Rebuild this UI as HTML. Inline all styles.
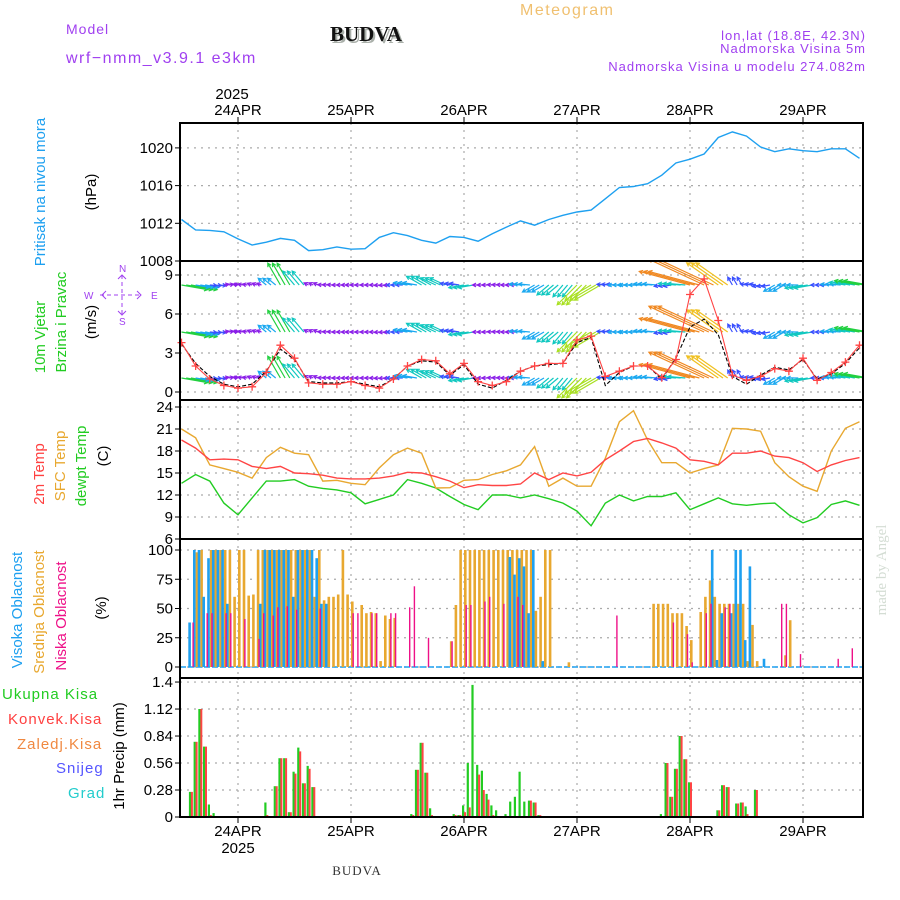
<!DOCTYPE html>
<html><head><meta charset="utf-8"><title>Meteogram BUDVA</title>
<style>
html,body{margin:0;padding:0;background:#fff;}
svg{display:block;font-family:"Liberation Sans","DejaVu Sans",sans-serif;}
</style></head>
<body>
<svg id="chart" width="900" height="900" viewBox="0 0 900 900" xmlns="http://www.w3.org/2000/svg">
<rect x="0" y="0" width="900" height="900" fill="#fff"/>
<g id="header">
<text x="66" y="34" font-size="14" fill="#a040f0" letter-spacing="1">Model</text>
<text x="66" y="63" font-size="16" fill="#a040f0" letter-spacing="1.5">wrf−nmm_v3.9.1 e3km</text>
<text x="332" y="43" font-size="21" font-weight="bold" fill="#aab0aa" font-family="Liberation Serif, serif">BUDVA</text>
<text x="330" y="41" font-size="21" font-weight="bold" fill="#111" font-family="Liberation Serif, serif">BUDVA</text>
<text x="520" y="15" font-size="16" fill="#f0c070" letter-spacing="1.5">Meteogram</text>
<text x="866" y="40" font-size="13" fill="#a040f0" text-anchor="end" letter-spacing="1">lon,lat (18.8E, 42.3N)</text>
<text x="866" y="53" font-size="13" fill="#a040f0" text-anchor="end" letter-spacing="1">Nadmorska Visina 5m</text>
<text x="866" y="71" font-size="13" fill="#a040f0" text-anchor="end" letter-spacing="1">Nadmorska Visina u modelu 274.082m</text>
</g>
<g id="grid"></g>
<g id="marks"></g>
<g id="frames"></g>
<g id="labels">
<text transform="translate(45,192) rotate(-90)" font-size="15" fill="#1ea0f0" text-anchor="middle">Pritisak na nivou mora</text>
<text transform="translate(96,192) rotate(-90)" font-size="15" fill="#000" text-anchor="middle">(hPa)</text>
<text transform="translate(45,337) rotate(-90)" font-size="15" fill="#22cc22" text-anchor="middle">10m Vjetar</text>
<text transform="translate(66,322) rotate(-90)" font-size="15" fill="#22cc22" text-anchor="middle">Brzina i Pravac</text>
<text transform="translate(96,322) rotate(-90)" font-size="15" fill="#000" text-anchor="middle">(m/s)</text>
<g fill="#a040f0" stroke="#a040f0" font-size="10">
<text x="119" y="272" stroke="none">N</text>
<text x="84" y="299" stroke="none">W</text>
<text x="151" y="299" stroke="none">E</text>
<text x="119" y="325" stroke="none">S</text>
<line x1="100" y1="295" x2="142" y2="295" stroke-dasharray="4,3" stroke-width="1"/>
<line x1="122" y1="275" x2="122" y2="315" stroke-dasharray="4,3" stroke-width="1"/>
<polyline points="106,291 102,295 106,299" fill="none" stroke-width="1"/>
<polyline points="137,291 141,295 137,299" fill="none" stroke-width="1"/>
<polyline points="118,279 122,275 126,279" fill="none" stroke-width="1"/>
<polyline points="118,311 122,315 126,311" fill="none" stroke-width="1"/>
</g>
<text transform="translate(44,474) rotate(-90)" font-size="15" fill="#ff4040" text-anchor="middle">2m Temp</text>
<text transform="translate(65,466) rotate(-90)" font-size="15" fill="#e8a830" text-anchor="middle">SFC Temp</text>
<text transform="translate(86,466) rotate(-90)" font-size="15" fill="#22cc22" text-anchor="middle">dewpt Temp</text>
<text transform="translate(108,456) rotate(-90)" font-size="15" fill="#000" text-anchor="middle">(C)</text>
<text transform="translate(22,610) rotate(-90)" font-size="15" fill="#1ea0f0" text-anchor="middle">Visoka Oblacnost</text>
<text transform="translate(44,612) rotate(-90)" font-size="15" fill="#e8a830" text-anchor="middle">Srednja Oblacnost</text>
<text transform="translate(66,616) rotate(-90)" font-size="15" fill="#ee1188" text-anchor="middle">Niska Oblacnost</text>
<text transform="translate(106,608) rotate(-90)" font-size="15" fill="#000" text-anchor="middle">(%)</text>
<text x="2" y="699" font-size="15" fill="#22cc22" letter-spacing="1">Ukupna Kisa</text>
<text x="8" y="724" font-size="15" fill="#ff4040" letter-spacing="1">Konvek.Kisa</text>
<text x="17" y="749" font-size="15" fill="#f08840" letter-spacing="1">Zaledj.Kisa</text>
<text x="56" y="773" font-size="15" fill="#5555ff" letter-spacing="1">Snijeg</text>
<text x="68" y="798" font-size="15" fill="#22cccc" letter-spacing="1">Grad</text>
<text transform="translate(124,756) rotate(-90)" font-size="15" fill="#000" text-anchor="middle">1hr Precip (mm)</text>
<text transform="translate(886,570) rotate(-90)" font-size="15" fill="#d4ddd4" text-anchor="middle" font-family="Liberation Serif, serif">made by Angel</text>
<text x="232" y="99" font-size="15" fill="#000" text-anchor="middle">2025</text>
<text x="238" y="853" font-size="15" fill="#000" text-anchor="middle">2025</text>
<text x="357" y="875" font-size="13" fill="#333" text-anchor="middle" font-family="Liberation Serif, serif" letter-spacing="1">BUDVA</text>
</g>
</svg>
<script>
// ---- data (3-hourly series, index i => hour 3*i from start 23APR ~12Z) ----
const dayLabels = ["24APR","25APR","26APR","27APR","28APR","29APR"];
const pressure = [1012.4,1011.3,1011.25,1011.1,1010.35,1009.7,1010,1010.4,1010.2,1009.1,1009.2,1009.5,1009.25,1009.3,1010.5,1011,1010.7,1010.2,1009.9,1010.6,1010.5,1010.1,1010.9,1011.6,1012.25,1011.8,1012.4,1012.85,1013.2,1013.4,1014.6,1015.8,1015.9,1016.2,1017.1,1018.4,1018.8,1019.35,1021.1,1021.7,1021.25,1020.1,1019.6,1019.9,1019.7,1019.6,1019.9,1019.9,1018.9];
const pressureTicks = [1008,1012,1016,1020];
const windSpeed = [3.8,2.0,1.0,0.5,0.3,0.4,1.5,3.6,2.6,0.7,0.6,0.6,0.8,0.5,0.3,1.0,2.0,2.5,2.4,1.4,2.2,0.8,0.5,0.8,1.6,2.0,2.2,2.2,4.0,4.3,1.2,1.6,2.0,2.0,1.1,2.5,7.5,8.7,5.5,1.3,0.9,1.2,1.8,1.6,2.6,0.9,1.5,2.3,3.6];
const windGust = [3.7,2.2,1.2,0.6,0.4,0.6,1.6,3.3,2.5,0.8,0.7,0.7,0.8,0.6,0.4,1.0,2.0,2.4,2.3,1.3,2.1,0.6,0.3,0.9,1.6,2.0,2.1,2.2,3.8,4.2,0.5,1.5,2.0,2.0,1.0,2.6,5.0,5.6,4.4,1.2,0.6,1.3,1.9,1.7,2.5,1.0,1.4,2.2,3.4];
const windDir = [280,280,275,260,100,110,130,150,140,115,95,90,90,90,85,90,100,120,115,100,80,90,95,90,95,60,50,40,45,60,95,90,90,95,80,95,105,115,125,150,100,80,60,90,80,90,95,100,100];
const windTicks = [0,3,6,9];
const temp2m = [19.5,18.4,16.8,16.9,16.8,15.9,15.6,15.9,15,14.9,14.7,14.3,14.2,14.2,14.3,14.6,15.1,15,14.5,13.9,13,13.4,13.3,13.3,13.5,15,14.1,15,14.6,15.1,16.8,18,19.3,19.7,19.1,18.4,16.8,16.6,16.1,17.7,17.7,18,17.3,17.1,16.4,15.2,16.1,16.7,17.1];
const tempSfc = [21,19.8,16.1,15.6,15.1,14.3,17.1,18.5,17.7,17.5,13.9,14,13.6,13.4,15.7,17.5,18.4,17.7,12.95,13,14,14.1,14.8,15.3,16.1,18.6,13.2,14.3,13.2,13.2,17,22,23.5,19.5,16.4,16.4,15,15.6,16.1,21.1,21,20.7,16.4,14.5,13.2,12.5,18,21.1,22];
const tempDew = [13.6,14.8,13.9,10.9,9.3,11.6,13.9,13.9,14.1,13.2,12.9,12.7,12.3,10.8,11.4,12,14.1,13.6,12.95,11.8,10.7,10,12,12,11.6,12,11.5,10.9,9.8,7.8,10.9,12,11.2,11.8,11.8,12.3,10,10.8,11.6,10.8,10.6,10.8,10.9,9.3,8.2,8.9,10.7,11.2,10.6];
const tempTicks = [6,9,12,15,18,21,24];
// ---- hourly cloud data (hour index, percent) ----
const midHours = [3,4,6,7,8,9,10,11,12,13,14,15,16,17,18,19,20,21,22,23,24,25,26,27,28,29,30,31,32,33,34,35,36,38,39,40,41,42,43,44,45,57,58,59,60,61,62,63,64,65,66,67,68,69,70,71,72,73,74,75,76,77,78,82,100,101,102,103,104,105,106,107,108,110,111,112,113,114,115,116,117,118,119,120,121,122,128,129];
const midVals = [98,100,100,100,100,100,100,60,100,100,61,62,100,100,100,100,100,100,100,100,100,100,100,100,60,100,57,60,60,62,100,62,56,53,46,47,46,5,44,41,42,22,53,100,100,100,100,100,100,100,100,100,100,100,100,100,100,100,100,48,60,100,100,4,54,54,54,54,46,46,46,35,23,47,60,74,60,54,54,54,54,54,54,5,36,5,10,40];
const highHours = [2,3,4,5,6,7,8,9,10,17,18,19,20,21,22,23,24,25,26,27,28,29,30,31,70,71,72,73,74,75,77,113,114,115,117,118,119,120,121,124];
const highVals = [38,100,100,60,93,100,100,100,54,54,100,100,100,100,100,100,60,100,100,100,100,93,54,54,94,79,93,86,46,100,5,100,6,46,46,100,100,23,86,7];
const lowHours = [2,5,6,9,10,13,16,17,19,20,22,24,29,36,37,40,41,44,45,48,49,52,57,60,61,64,65,68,71,72,92,104,107,108,111,112,115,116,127,128,131,139,142];
const lowVals = [38,46,46,46,46,41,24,46,44,51,52,49,50,46,46,46,46,46,46,51,69,25,22,53,53,56,60,54,60,53,44,38,28,4,46,54,51,54,54,54,11,7,16];
const cloudTicks = [0,25,50,75,100];
// ---- hourly precipitation (hour index, mm) ----
const precipHours = [2,3,4,5,6,7,18,20,21,22,23,24,25,26,27,28,48,49,50,51,52,53,58,59,60,61,62,63,64,65,66,67,69,70,71,72,73,74,75,76,102,103,104,105,106,107,108,114,115,116,118,119,120,122];
const precipTotal = [0.26,0.78,1.12,0.73,0.13,0.04,0.15,0.32,0.61,0.61,0.05,0.47,0.72,0.35,0.53,0.31,0.01,0.03,0.49,0.77,0.46,0.09,0.03,0.02,0.12,0.56,1.37,0.54,0.48,0.24,0.12,0.07,0.03,0.16,0.21,0.47,0.16,0.17,0.15,0.02,0.03,0.56,0.21,0.50,0.84,0.60,0.36,0.07,0.33,0.31,0.14,0.15,0.11,0.28];
const precipConv = [0.26,0.78,1.12,0.73,0.02,0,0.02,0.32,0.61,0.61,0.05,0.45,0.68,0.35,0.5,0.31,0.01,0.02,0.49,0.77,0.46,0.02,0.02,0.02,0.05,0.1,0,0.44,0.28,0.18,0.02,0,0,0,0,0,0,0.17,0.15,0.02,0.01,0.56,0.21,0.5,0.84,0.6,0.36,0.07,0.33,0.31,0.14,0.15,0.03,0.28];
const precipTicks = [0,0.28,0.56,0.84,1.12,1.4];

// ---- layout ----
const NS = "http://www.w3.org/2000/svg";
const PL = 180, PR = 863;
const xH = h => 238 + (h - 12) * 113 / 24;     // hour -> px
const dayX = k => 238 + k * 113;
const panels = {
  p: {top:123, bot:261, y: v => 261 - (v - 1008) * 9.425},
  w: {top:261, bot:400, y: v => 392 - v * 13},
  t: {top:400, bot:539, y: v => 539 - (v - 6) * 7.333},
  c: {top:539, bot:678, y: v => 667 - v * 1.17},
  r: {top:678, bot:817, y: v => 817 - v * 96.4}
};
const grid = document.getElementById('grid');
const marks = document.getElementById('marks');
const frames = document.getElementById('frames');
function mk(tag, attrs, parent){
  const e = document.createElementNS(NS, tag);
  for (const k in attrs) e.setAttribute(k, attrs[k]);
  parent.appendChild(e);
  return e;
}
function fmt(v){ return (Math.round(v*100)/100).toString(); }

function axisPanel(key, ticks, name){
  const P = panels[key];
  for (let k = 0; k < dayLabels.length; k++){
    const g = mk('line', {x1:dayX(k), x2:dayX(k), y1:P.top, y2:P.bot, stroke:'#aaa', 'stroke-width':1.2, 'stroke-dasharray':'2,5'}, grid);
    
    
  }
  ticks.forEach(t => {
    const y = P.y(t);
    if (y > P.top + 1 && y < P.bot - 1){
      const g = mk('line', {x1:PL, x2:PR, y1:y, y2:y, stroke:'#aaa', 'stroke-width':1.2, 'stroke-dasharray':'2,5'}, grid);
      
      
    }
    const tk = mk('line', {x1:PL-5, x2:PL, y1:y, y2:y, stroke:'#000', 'stroke-width':1}, frames);
    
    
    const tl = mk('text', {x:PL-7, y:y+5, 'font-size':15, 'text-anchor':'end', fill:'#000'}, frames);
    tl.textContent = fmt(t);
    
    
  });
  const fr = mk('rect', {x:PL, y:P.top, width:PR-PL, height:P.bot-P.top, fill:'none', stroke:'#000', 'stroke-width':2}, frames);
  
  
}
axisPanel('p', pressureTicks, 'pressure');
axisPanel('w', windTicks, 'wind');
axisPanel('t', tempTicks, 'temp');
axisPanel('c', cloudTicks, 'cloud');
axisPanel('r', precipTicks, 'precip');

dayLabels.forEach((d, k) => {
  const x = dayX(k);
  const t1 = mk('line', {x1:x, x2:x, y1:117, y2:123, stroke:'#000'}, frames);
  
  
  const l1 = mk('text', {x:x, y:115, 'font-size':15, 'text-anchor':'middle', fill:'#000'}, frames);
  l1.textContent = d;
  
  
  const t2 = mk('line', {x1:x, x2:x, y1:817, y2:823, stroke:'#000'}, frames);
  
  
  const l2 = mk('text', {x:x, y:836, 'font-size':15, 'text-anchor':'middle', fill:'#000'}, frames);
  l2.textContent = d;
  
  
});

const defs = mk('defs', {}, document.getElementById('chart'));
Object.keys(panels).forEach(k => {
  const cp = mk('clipPath', {id:'clip-' + k}, defs);
  mk('rect', {x:PL, y:panels[k].top, width:PR-PL, height:panels[k].bot-panels[k].top}, cp);
});

function line3h(key, arr, color, name, extra){
  const P = panels[key];
  const pts = arr.map((v, i) => xH(i*3).toFixed(1) + ',' + P.y(v).toFixed(1)).join(' ');
  const attrs = {points:pts, fill:'none', stroke:color, 'stroke-width':1.4, 'clip-path':'url(#clip-' + key + ')'};
  if (extra) Object.assign(attrs, extra);
  const pl = mk('polyline', attrs, marks);
  
  
  return pl;
}

line3h('p', pressure, '#1ea0f0', 'pressure-line');

function windColor(s){
  if (s < 0.9) return '#8a1ee8';
  if (s < 1.5) return '#3a50ff';
  if (s < 2.2) return '#1aa8f0';
  if (s < 3.0) return '#10c8c0';
  if (s < 4.0) return '#22d040';
  if (s < 5.5) return '#a8e020';
  if (s < 7.0) return '#f0c020';
  return '#f08820';
}
const rowBase = [285, 332, 378];
const wg = mk('g', {'clip-path':'url(#clip-w)'}, marks);


rowBase.forEach((by) => {
  windSpeed.forEach((s, i) => {
    for (let k = 0; k < 3; k++){
      const x0 = xH(i*3 + k);
      const to = (windDir[i] + 180) * Math.PI / 180;
      const L = Math.max(5, s * 7);
      const x1 = x0 + Math.sin(to) * L, y1 = by - Math.cos(to) * L;
      const c = windColor(s);
      const ang = Math.atan2(y1 - by, x1 - x0);
      const hl = 4;
      const a1x = x1 - hl*Math.cos(ang - 0.5), a1y = y1 - hl*Math.sin(ang - 0.5);
      const a2x = x1 - hl*Math.cos(ang + 0.5), a2y = y1 - hl*Math.sin(ang + 0.5);
      const p = mk('path', {d:`M${x0.toFixed(1)},${by} L${x1.toFixed(1)},${y1.toFixed(1)} M${a1x.toFixed(1)},${a1y.toFixed(1)} L${x1.toFixed(1)},${y1.toFixed(1)} L${a2x.toFixed(1)},${a2y.toFixed(1)}`, fill:'none', stroke:c, 'stroke-width':1.2}, wg);
      
      
    }
  });
});
line3h('w', windGust, '#000', 'wind-gust-line', {'stroke-dasharray':'4,2', 'stroke-width':1.1});
line3h('w', windSpeed, '#ff4444', 'wind-speed-line', {'stroke-width':1.1});
windSpeed.forEach((s, i) => {
  const x = xH(i*3), y = panels.w.y(s);
  if (x > PR) return;
  const m = mk('path', {d:`M${x-4},${y} H${x+4} M${x},${y-4} V${y+4}`, stroke:'#ff4444', 'stroke-width':1.3, fill:'none'}, marks);
  
  
});

line3h('t', tempDew, '#22cc22', 'dewpoint-line');
line3h('t', tempSfc, '#e8a830', 'sfc-temp-line');
line3h('t', temp2m, '#ff4444', 'temp-2m-line');

const cg = mk('g', {'clip-path':'url(#clip-c)'}, marks);


const zl = mk('line', {x1:PL, x2:PR, y1:panels.c.y(0), y2:panels.c.y(0), stroke:'#1ea0f0', 'stroke-width':1.5, 'stroke-dasharray':'6,2'}, cg);


function cloudBars(hours, vals, color, dx, w, name){
  hours.forEach((h, i) => {
    const y = panels.c.y(vals[i]);
    const b = mk('rect', {x:(xH(h)+dx).toFixed(1), y:y.toFixed(1), width:w, height:(panels.c.y(0)-y).toFixed(1), fill:color}, cg);
    
    
  });
}
cloudBars(midHours, midVals, '#e8a830', 0, 2.6, 'cloud-mid-bar');
cloudBars(highHours, highVals, '#1ea0f0', -2.6, 2.6, 'cloud-high-bar');
cloudBars(lowHours, lowVals, '#ee1188', 1.5, 1.4, 'cloud-low-bar');

const rg = mk('g', {'clip-path':'url(#clip-r)'}, marks);


precipHours.forEach((h, i) => {
  const x = xH(h);
  const y0 = panels.r.y(0);
  const yt = panels.r.y(precipTotal[i]);
  const b = mk('rect', {x:(x-2).toFixed(1), y:yt.toFixed(1), width:2.2, height:(y0-yt).toFixed(1), fill:'#22cc22'}, rg);
  
  
  if (precipConv[i] > 0){
    const yc = panels.r.y(precipConv[i]);
    const c = mk('rect', {x:(x).toFixed(1), y:yc.toFixed(1), width:2, height:(y0-yc).toFixed(1), fill:'#ff4444'}, rg);
    
    
  }
});
</script>
</body></html>
